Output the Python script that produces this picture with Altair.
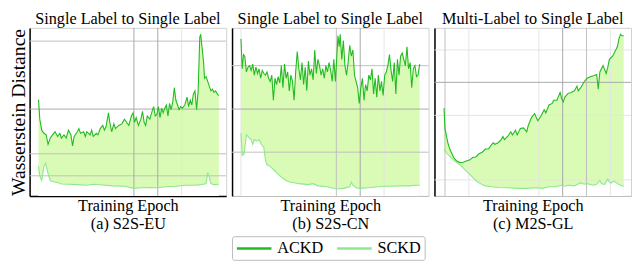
import altair as alt
import pandas as pd

FONT = "Liberation Serif"
X_MAX = 618   # epoch axis extent (reading units)
Y_MAX = 534   # distance axis extent (reading units, readings measured from the top)

TITLES = ["Single Label to Single Label", "Single Label to Single Label", "Multi-Label to Single Label"]
CAPTIONS = ["(a) S2S-EU", "(b) S2S-CN", "(c) M2S-GL"]
SERIES = ["ACKD", "SCKD"]

# ---- panel (a) ----
P1_ACKD_X = [28,32,38,45,52,58,65,72,80,88,95,100,108,115,122,130,135,140,150,155,160,170,175,180,190,195,200,210,215,222,
             230,235,240,248,252,258,265,270,280,290,298,305,312,320,325,330,335,342,350,355,360,365,370,378,385,390,395,400,405,410,
             415,420,425,430,435,440,445,450,455,460,465,470,475,480,488,495,500,505,510,515,520,525,530,535,538,542,547,550,555,560,
             565,570,575,580,585,590,595]
P1_ACKD_R = [228,290,325,335,340,370,350,340,330,345,335,350,340,350,325,340,375,345,330,320,335,330,345,330,340,325,345,335,340,320,
             310,325,315,270,300,330,305,320,310,305,290,300,310,280,270,300,285,310,290,265,300,310,280,290,265,250,280,275,250,285,
             255,270,255,245,280,240,260,235,190,230,245,260,250,255,245,220,250,230,245,210,200,260,200,30,20,60,110,160,155,170,
             185,200,195,205,200,210,215]
P1_SCKD_X = [28,32,38,45,50,55,60,65,70,80,90,100,120,150,180,200,230,260,300,328,350,380,403,430,460,490,520,540,555,560,565,570,580,595]
P1_SCKD_R = [440,470,485,440,430,450,470,485,487,490,492,496,497,498,500,497,499,502,503,510,508,507,508,505,503,500,500,498,495,460,475,495,498,497]

# ---- panel (b) ----
P2_ACKD_X = [28,32,36,40] + list(range(45, 331, 5)) + [333,337] + list(range(340, 591, 5))
P2_ACKD_R = [35,130,85,90,140,125,120,135,115,150,125,145,130,160,135,145,150,140,160,170,
             150,230,160,180,155,175,120,190,115,160,140,200,150,170,230,140,75,130,165,110,
             180,125,200,105,150,130,165,70,145,100,120,150,130,160,120,140,110,135,170,100,
             170,80,25,60,20,100,40,120,150,110,55,90,70,150,170,190,240,190,160,230,
             180,200,150,165,130,210,160,220,150,200,170,215,150,140,120,85,135,170,110,210,
             100,150,90,80,100,120,60,130,110,190,130,120,155,150,115]
P2_SCKD_X = [28,32,38,45,50,55,60,65,70,78,85,92,100,105,110,120,130,140,150,160,170,180,195,210,240,255,270,300,328,350,
             370,375,380,390,403,430,460,480,500,530,560,575,590]
P2_SCKD_R = [335,405,400,340,345,350,355,370,355,360,355,370,380,420,435,440,450,460,470,478,485,490,492,495,498,495,502,505,512,510,
             505,490,500,508,510,508,505,503,503,502,502,500,500]

# ---- panel (c) ----
P3_ACKD_X = [30,33,37,42,48,55,62,70,80,90,100,110,120,130,140,150,160,170,180,185,190,200,210,215,220,230,240,245,255,260,
             270,280,290,295,305,315,320,325,335,345,350,360,370,375,385,395,400,405,410,420,430,440,448,452,460,470,480,490,500,510,
             515,520,530,540,545,550,560,570,575,580,585,590,595]
P3_ACKD_R = [255,320,340,365,385,400,415,423,428,427,423,420,412,410,400,395,385,385,370,365,370,365,355,345,355,345,330,340,325,340,
             320,318,330,310,285,272,285,295,280,260,270,245,240,230,230,205,225,235,220,208,205,200,185,200,190,172,160,155,152,148,
             195,140,120,145,125,100,90,70,60,35,20,25,25]
P3_SCKD_X = [30,40,50,60,70,80,90,100,110,120,130,140,150,160,180,200,230,260,290,320,340,360,380,400,410,420,440,460,470,480,
             500,510,520,525,535,545,550,555,565,575,585,595]
P3_SCKD_R = [385,400,410,420,428,435,445,455,465,475,485,492,498,502,505,507,508,510,510,508,510,505,505,500,503,500,502,492,497,495,
             500,497,485,495,497,480,490,493,487,495,500,503]

# gridlines (readings) with their emphasis level
P1_HGRID = [(42, "mid"), (258, "dark"), (400, "mid"), (470, "mid")]
P1_VGRID = [(328, "dark"), (403, "dark"), (478, "light")]
P2_HGRID = [(120, "mid"), (258, "dark"), (395, "mid")]
P2_VGRID = [(28, "light"), (328, "mid"), (403, "dark"), (478, "light")]
P3_HGRID = [(70, "light"), (173, "dark"), (278, "light"), (483, "light")]
P3_VGRID = [(33, "mid"), (108, "light"), (328, "light"), (403, "dark"), (478, "mid"), (553, "light")]

# ---- styles ----
DARK_GREEN = "#22bb22"
LIGHT_GREEN = "#8ee88e"
FILL = "#d9fbb5"
GRID_COLORS = {"dark": "#a8a8a8", "mid": "#c0c0c0", "light": "#e4e4e4"}
W, H = 200, 171
FS = 16.5


def series_df(xs, rs, name):
    return pd.DataFrame({"epoch": xs, "dist": [Y_MAX - r for r in rs], "series": name})


def panel(i, ackd, sckd, hgrid, vgrid, show_y):
    xs = alt.Scale(domain=[0, X_MAX], nice=False, zero=False)
    ys = alt.Scale(domain=[0, Y_MAX], nice=False, zero=False)
    xaxis = alt.Axis(title=["Training Epoch", CAPTIONS[i]], labels=False, ticks=False, grid=False,
                     domainColor="black" if i == 0 else "#bdbdbd", domainWidth=1.5 if i == 0 else 1)
    if show_y:
        yaxis = alt.Axis(title="Wasserstein Distance", labels=False, ticks=False, grid=False,
                         domainColor="black", domainWidth=1.5, titleFontSize=20, titlePadding=1)
    else:
        yaxis = alt.Axis(title=None, labels=False, ticks=False, grid=False,
                         domainColor="black", domainWidth=1.5)

    def X(f="epoch"):
        return alt.X(f, type="quantitative", scale=xs, axis=xaxis)

    def Y(f="dist"):
        return alt.Y(f, type="quantitative", scale=ys, axis=yaxis)

    a = series_df(*ackd, "ACKD")
    s = series_df(*sckd, "SCKD")

    layers = [
        alt.Chart(a).mark_area(color=FILL, opacity=1).encode(x=X(), y=Y()),
        alt.Chart(s).mark_area(color="white", opacity=1).encode(x=X(), y=Y()),
    ]
    for level in ["light", "mid", "dark"]:
        hv = [Y_MAX - r for r, lv in hgrid if lv == level]
        vv = [x for x, lv in vgrid if lv == level]
        if hv:
            layers.append(alt.Chart(pd.DataFrame({"dist": hv})).mark_rule(color=GRID_COLORS[level], strokeWidth=1)
                          .encode(y=Y()))
        if vv:
            layers.append(alt.Chart(pd.DataFrame({"epoch": vv})).mark_rule(color=GRID_COLORS[level], strokeWidth=1)
                          .encode(x=X()))
    lines = pd.concat([s, a], ignore_index=True)
    layers.append(
        alt.Chart(lines).mark_line(strokeWidth=1.1).encode(
            x=X(), y=Y(),
            color=alt.Color("series:N", scale=alt.Scale(domain=SERIES, range=[DARK_GREEN, LIGHT_GREEN]),
                            legend=alt.Legend(orient="none", legendX=206, legendY=212, direction="horizontal",
                                              title=None)),
            order=alt.Order("series:N", sort="descending"),
        )
    )
    return alt.layer(*layers).properties(
        width=W, height=H,
        title=alt.TitleParams(TITLES[i], font=FONT, fontSize=FS, fontWeight="normal", color="black", offset=0),
    )


p1 = panel(0, (P1_ACKD_X, P1_ACKD_R), (P1_SCKD_X, P1_SCKD_R), P1_HGRID, P1_VGRID, True)
p2 = panel(1, (P2_ACKD_X, P2_ACKD_R), (P2_SCKD_X, P2_SCKD_R), P2_HGRID, P2_VGRID, False)
p3 = panel(2, (P3_ACKD_X, P3_ACKD_R), (P3_SCKD_X, P3_SCKD_R), P3_HGRID, P3_VGRID, False)

chart = (
    alt.hconcat(p1, p2, p3, spacing=4, padding=0)
    .resolve_scale(color="shared")
    .configure_view(stroke="#d0d0d0", strokeWidth=1)
    .configure_axis(titleFont=FONT, titleFontSize=FS, titleFontWeight="normal", titleColor="black",
                    titlePadding=2, titleLineHeight=18)
    .configure_legend(labelFont=FONT, labelFontSize=FS, labelColor="black", symbolType="M-2.2,0H2.2",
                      symbolSize=256, symbolStrokeWidth=2.5, strokeColor="#bbbbbb", cornerRadius=2,
                      padding=3, columnPadding=8, symbolOffset=10, labelOffset=14, fillColor="white")
)

chart.save("out.html", embed_options={"renderer": "svg", "actions": False})
